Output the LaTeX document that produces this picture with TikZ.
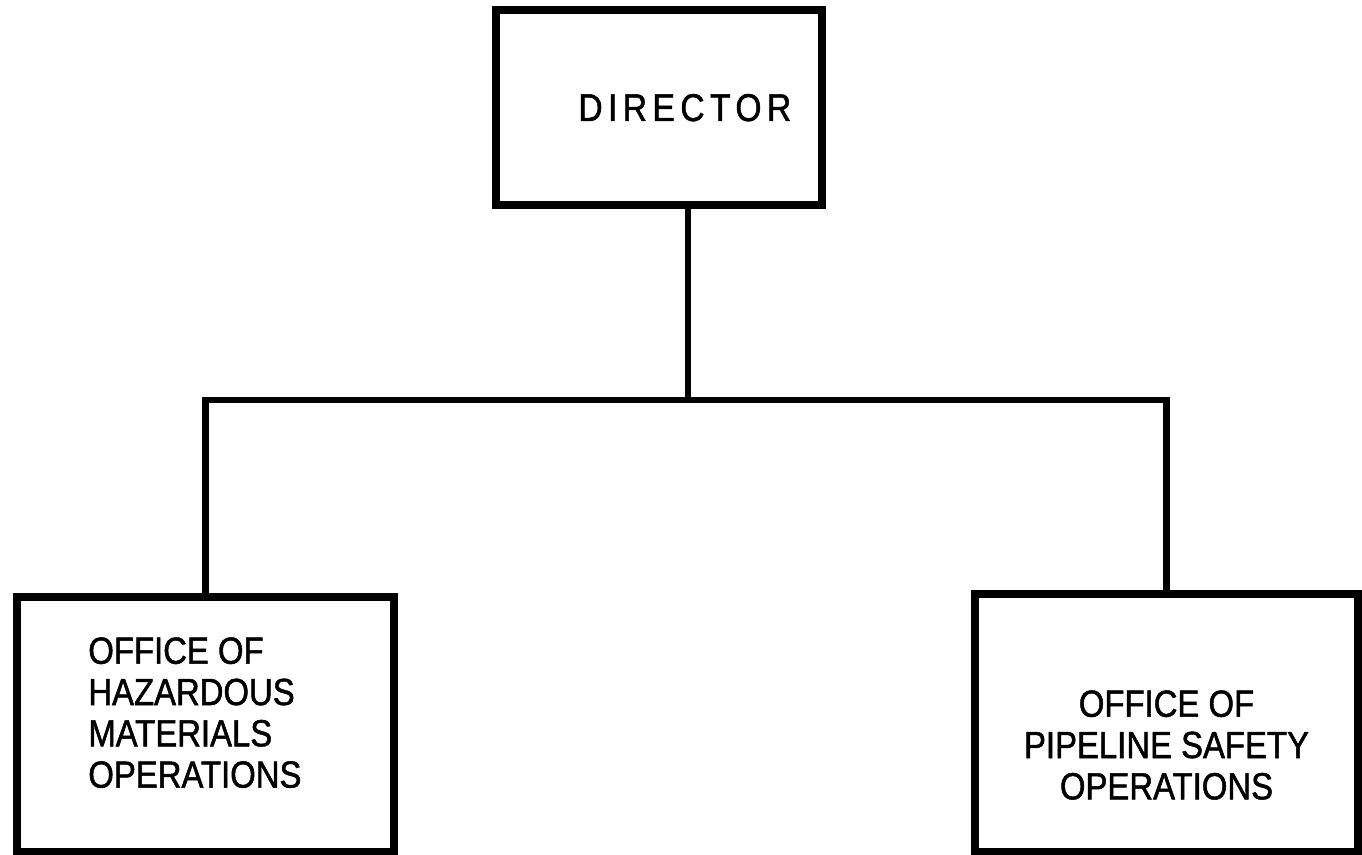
\documentclass[tikz,border=0pt]{standalone}
\usepackage{fontspec}
\setmainfont{Liberation Sans}[FakeStretch=0.87,FakeBold=1.3]
\newfontfamily\spacedfont{Liberation Sans}[FakeStretch=0.87,FakeBold=1.3,LetterSpace=14]

\begin{document}
\begin{tikzpicture}[
    unit/.style={draw, line width=5pt, outer sep=0pt, inner sep=0pt},
    link/.style={line width=3.8pt},
    caption/.style={inner sep=0pt, font=\fontsize{21.5}{23.5}\selectfont}
  ]
  \useasboundingbox (0,0) rectangle (27.24,17.1);

  % director
  \node[unit, minimum width=6.52cm, minimum height=3.9cm] (dir) at (13.18,14.95) {};
  \node[caption, font=\spacedfont\fontsize{22}{24}\selectfont, anchor=base west] (dirtext)
    at ([xshift=1.64cm, yshift=-0.27cm]dir.west) {DIRECTOR};

  % hazardous materials
  \node[unit, minimum width=7.54cm, minimum height=5.1cm] (haz) at (4.11,2.61) {};
  \node[caption, align=left, anchor=north west] (haztext)
    at ([xshift=1.42cm, yshift=-0.8cm]haz.north west) {OFFICE OF\\HAZARDOUS\\MATERIALS\\OPERATIONS};

  % pipeline safety
  \node[unit, minimum width=7.66cm, minimum height=5.16cm] (pipe) at (23.33,2.64) {};
  \node[caption, align=center, anchor=north] (pipetext)
    at ([yshift=-1.92cm]pipe.north) {OFFICE OF\\PIPELINE SAFETY\\OPERATIONS};

  % lines
  \coordinate (tee) at (13.76,9.1);
  \draw[link] (dir.south -| tee) -- (tee);
  \draw[link] (haz.north) |- (tee) -| (pipe.north);
\end{tikzpicture}
\end{document}
